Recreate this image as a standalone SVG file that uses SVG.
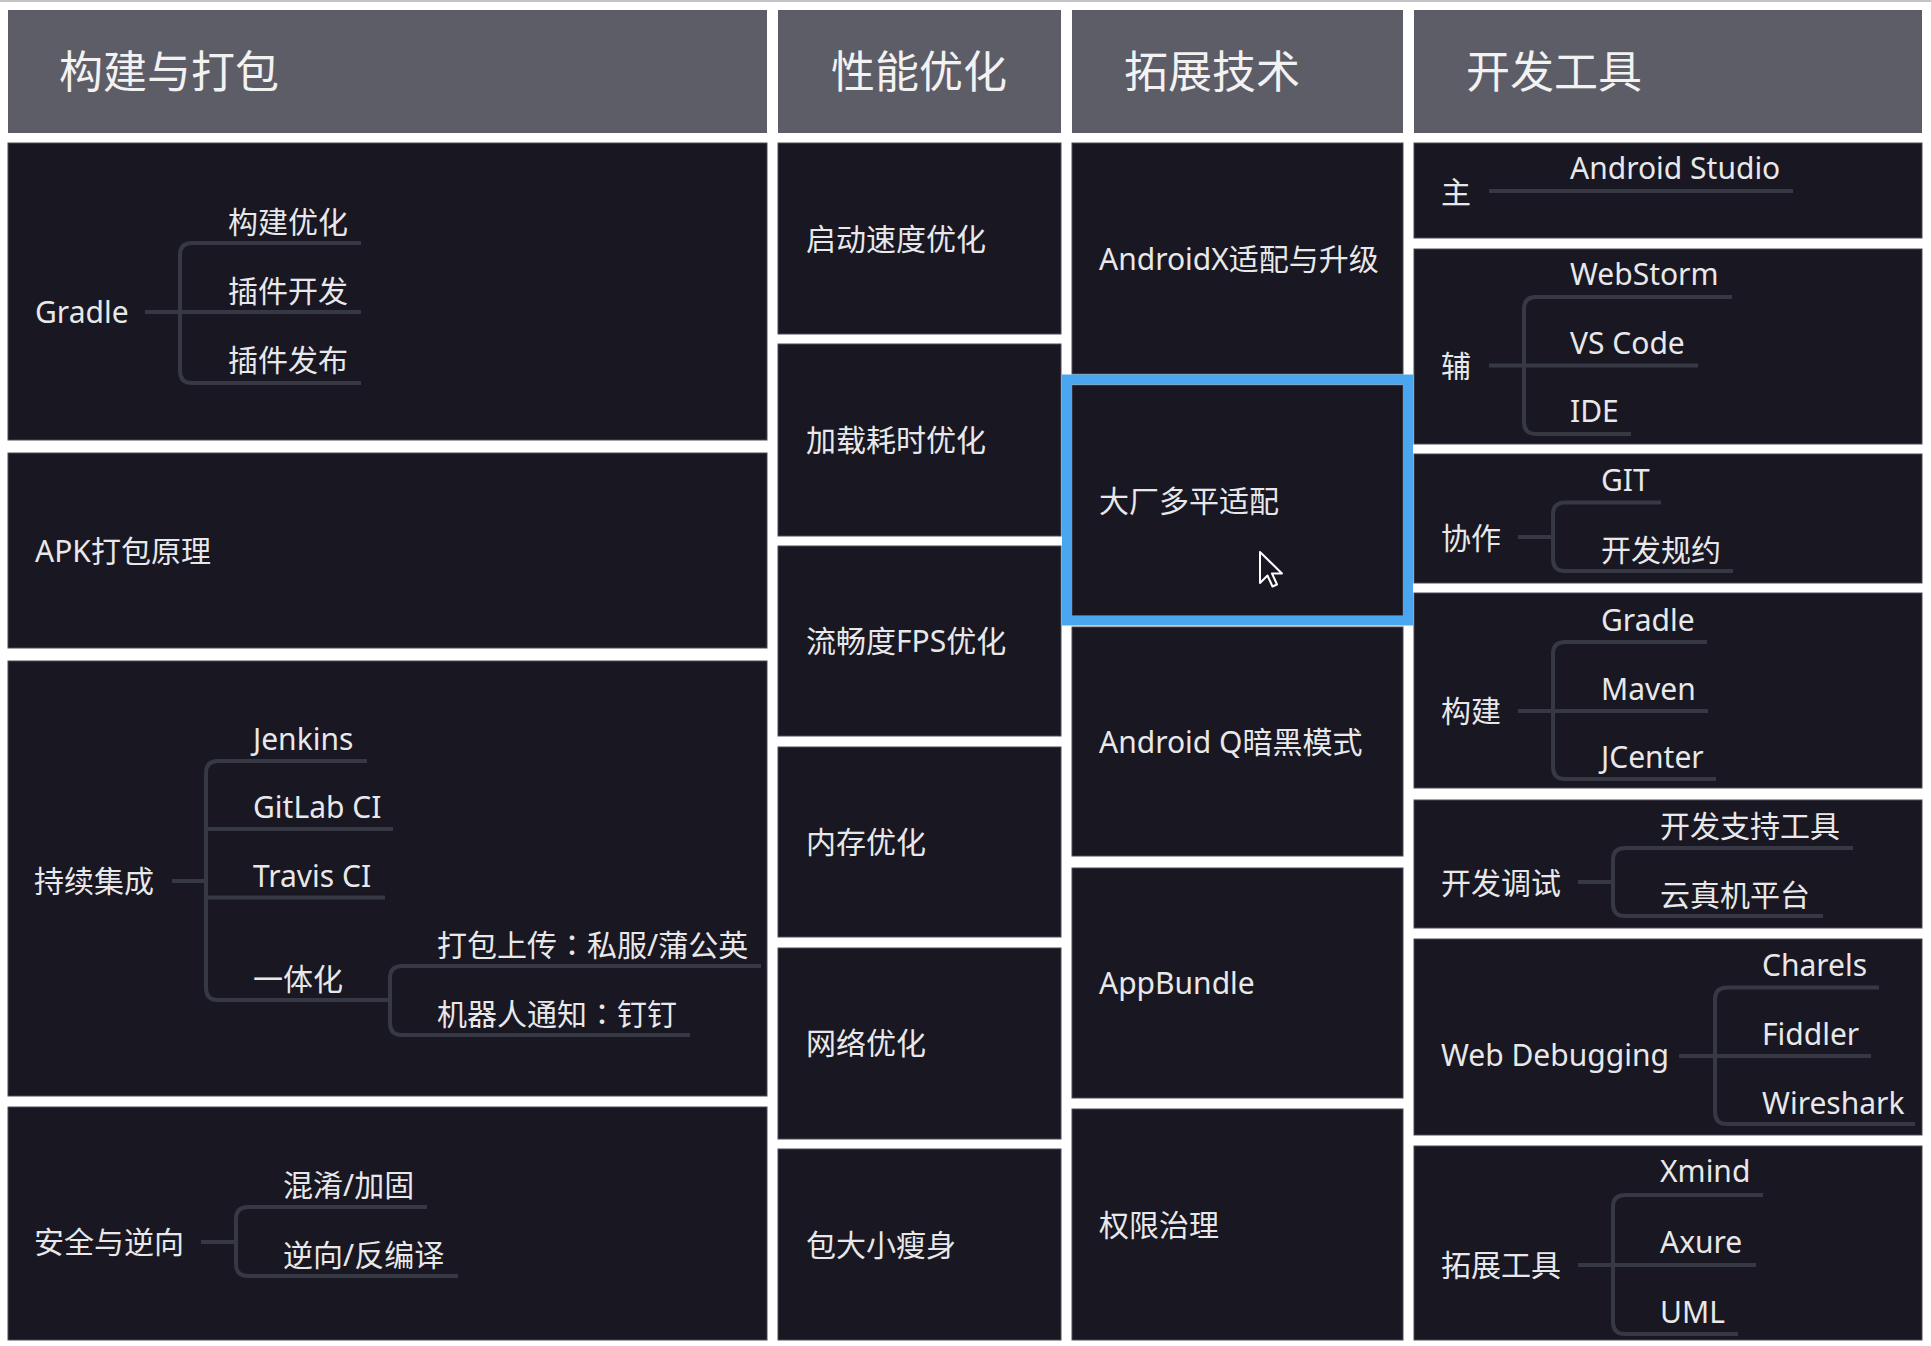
<svg xmlns="http://www.w3.org/2000/svg" width="1931" height="1346" viewBox="0 0 1931 1346">
<style>
.hd{fill:#5d5d67}
.bx{fill:#181722;stroke:#4a4a55;stroke-width:1}
.h{font-family:"Noto Sans","Noto Sans CJK SC",sans-serif;font-size:44px;fill:#f2f2f2}
.t{font-family:"Noto Sans","Noto Sans CJK SC",sans-serif;font-size:30px;fill:#e8e8ea}
.c{font-family:"Noto Sans CJK TC","Noto Sans CJK SC",sans-serif}
.ln{fill:none;stroke:#363844;stroke-width:4}
</style>
<rect x="0" y="0" width="1931" height="1346" fill="#ffffff"/>
<rect x="0" y="0" width="1931" height="2" fill="#c4c4c8"/>

<g id="headers">
<g id="h-build"><rect class="hd" x="8" y="10" width="759" height="123"/><text class="h" x="59" y="88">构建与打包</text></g>
<g id="h-perf"><rect class="hd" x="778" y="10" width="283" height="123"/><text class="h" x="831" y="88">性能优化</text></g>
<g id="h-ext"><rect class="hd" x="1072" y="10" width="331" height="123"/><text class="h" x="1124" y="88">拓展技术</text></g>
<g id="h-tools"><rect class="hd" x="1414" y="10" width="508" height="123"/><text class="h" x="1466" y="88">开发工具</text></g>
</g>

<g id="col1">
<g id="n-gradle"><rect class="bx" x="8" y="143" width="759" height="297"/>
<text class="t" x="35" y="323">Gradle</text>
<text class="t" x="228" y="233">构建优化</text>
<text class="t" x="228" y="302">插件开发</text>
<text class="t" x="228" y="371">插件发布</text></g>
<g id="n-apk"><rect class="bx" x="8" y="453" width="759" height="195"/>
<text class="t" x="35" y="562">APK打包原理</text></g>
<g id="n-ci"><rect class="bx" x="8" y="661" width="759" height="435"/>
<text class="t" x="34" y="892">持续集成</text>
<text class="t" x="253" y="750">Jenkins</text>
<text class="t" x="253" y="818">GitLab CI</text>
<text class="t" x="253" y="887">Travis CI</text>
<text class="t" x="253" y="990">一体化</text>
<text class="t" x="437" y="956">打包上传<tspan class="c">：</tspan>私服/蒲公英</text>
<text class="t" x="437" y="1025">机器人通知<tspan class="c">：</tspan>钉钉</text></g>
<g id="n-sec"><rect class="bx" x="8" y="1107" width="759" height="233"/>
<text class="t" x="34" y="1253">安全与逆向</text>
<text class="t" x="283" y="1196">混淆/加固</text>
<text class="t" x="283" y="1266">逆向/反编译</text></g>
</g>

<g id="col2">
<g id="n-start"><rect class="bx" x="778" y="143" width="283" height="191"/><text class="t" x="806" y="250">启动速度优化</text></g>
<g id="n-load"><rect class="bx" x="778" y="344" width="283" height="192"/><text class="t" x="806" y="451">加载耗时优化</text></g>
<g id="n-fps"><rect class="bx" x="778" y="546" width="283" height="190"/><text class="t" x="806" y="652">流畅度FPS优化</text></g>
<g id="n-mem"><rect class="bx" x="778" y="747" width="283" height="190"/><text class="t" x="806" y="853">内存优化</text></g>
<g id="n-net"><rect class="bx" x="778" y="948" width="283" height="191"/><text class="t" x="806" y="1054">网络优化</text></g>
<g id="n-size"><rect class="bx" x="778" y="1149" width="283" height="191"/><text class="t" x="806" y="1256">包大小瘦身</text></g>
</g>

<g id="col3">
<g id="n-androidx"><rect class="bx" x="1072" y="143" width="331" height="231"/><text class="t" x="1099" y="270">AndroidX适配与升级</text></g>
<g id="n-multi"><rect class="bx" x="1072" y="385" width="331" height="231"/><text class="t" x="1099" y="512">大厂多平适配</text>
<rect x="1067" y="379.5" width="341" height="241" fill="none" stroke="#4aa6ef" stroke-width="10"/></g>
<g id="n-dark"><rect class="bx" x="1072" y="627" width="331" height="229"/><text class="t" x="1099" y="753">Android Q暗黑模式</text></g>
<g id="n-bundle"><rect class="bx" x="1072" y="868" width="331" height="230"/><text class="t" x="1099" y="994">AppBundle</text></g>
<g id="n-perm"><rect class="bx" x="1072" y="1109" width="331" height="231"/><text class="t" x="1099" y="1236">权限治理</text></g>
</g>

<g id="col4">
<g id="n-main"><rect class="bx" x="1414" y="143" width="508" height="95"/>
<text class="t" x="1441" y="203">主</text><text class="t" x="1570" y="179">Android Studio</text></g>
<g id="n-aux"><rect class="bx" x="1414" y="249" width="508" height="195"/>
<text class="t" x="1441" y="377">辅</text>
<text class="t" x="1570" y="285">WebStorm</text>
<text class="t" x="1570" y="354">VS Code</text>
<text class="t" x="1570" y="422">IDE</text></g>
<g id="n-collab"><rect class="bx" x="1414" y="454" width="508" height="129"/>
<text class="t" x="1441" y="549">协作</text>
<text class="t" x="1601" y="491">GIT</text>
<text class="t" x="1601" y="561">开发规约</text></g>
<g id="n-buildtools"><rect class="bx" x="1414" y="593" width="508" height="195"/>
<text class="t" x="1441" y="722">构建</text>
<text class="t" x="1601" y="631">Gradle</text>
<text class="t" x="1601" y="700">Maven</text>
<text class="t" x="1601" y="768">JCenter</text></g>
<g id="n-debug"><rect class="bx" x="1414" y="800" width="508" height="128"/>
<text class="t" x="1441" y="894">开发调试</text>
<text class="t" x="1660" y="837">开发支持工具</text>
<text class="t" x="1660" y="906">云真机平台</text></g>
<g id="n-web"><rect class="bx" x="1414" y="939" width="508" height="196"/>
<text class="t" x="1441" y="1066">Web Debugging</text>
<text class="t" x="1762" y="976">Charels</text>
<text class="t" x="1762" y="1045">Fiddler</text>
<text class="t" x="1762" y="1114">Wireshark</text></g>
<g id="n-exttools"><rect class="bx" x="1414" y="1146" width="508" height="194"/>
<text class="t" x="1441" y="1276">拓展工具</text>
<text class="t" x="1660" y="1182">Xmind</text>
<text class="t" x="1660" y="1253">Axure</text>
<text class="t" x="1660" y="1323">UML</text></g>
</g>

<g id="connectors">
<path class="ln" d="M145 312 H361"/>
<path class="ln" d="M361 243 H192 Q180 243 180 255 V371 Q180 383 192 383 H361"/>
<path class="ln" d="M172 881 H206"/>
<path class="ln" d="M367 761 H218 Q206 761 206 773 V988 Q206 1000 218 1000 H390"/>
<path class="ln" d="M206 829 H393"/>
<path class="ln" d="M206 897.5 H385"/>
<path class="ln" d="M761 966 H402 Q390 966 390 978 V1023 Q390 1035 402 1035 H690"/>
<path class="ln" d="M201 1242 H236"/>
<path class="ln" d="M427 1207 H248 Q236 1207 236 1219 V1264 Q236 1276 248 1276 H458"/>
<path class="ln" d="M1489 191 H1793"/>
<path class="ln" d="M1489 365.5 H1524"/>
<path class="ln" d="M1732 297 H1536 Q1524 297 1524 309 V422 Q1524 434 1536 434 H1631"/>
<path class="ln" d="M1524 365.5 H1698"/>
<path class="ln" d="M1518 537 H1553"/>
<path class="ln" d="M1661 502.5 H1565 Q1553 502.5 1553 514.5 V559 Q1553 571 1565 571 H1733"/>
<path class="ln" d="M1518 711 H1553"/>
<path class="ln" d="M1707 642 H1565 Q1553 642 1553 654 V767 Q1553 779 1565 779 H1716"/>
<path class="ln" d="M1553 711 H1708"/>
<path class="ln" d="M1578 882 H1613"/>
<path class="ln" d="M1853 848 H1625 Q1613 848 1613 860 V904 Q1613 916 1625 916 H1823"/>
<path class="ln" d="M1679 1056 H1715"/>
<path class="ln" d="M1879 987.5 H1727 Q1715 987.5 1715 999.5 V1112 Q1715 1124 1727 1124 H1915"/>
<path class="ln" d="M1715 1056 H1871"/>
<path class="ln" d="M1578 1265 H1613"/>
<path class="ln" d="M1763 1195 H1625 Q1613 1195 1613 1207 V1322 Q1613 1334 1625 1334 H1738"/>
<path class="ln" d="M1613 1265 H1756"/>
</g>

<polygon id="cursor" points="1260,552 1260,583 1267.5,575.5 1272.5,586.5 1277,584.5 1272,573.5 1282,573.5" fill="#181722" stroke="#ffffff" stroke-width="2" stroke-linejoin="round"/>
</svg>
